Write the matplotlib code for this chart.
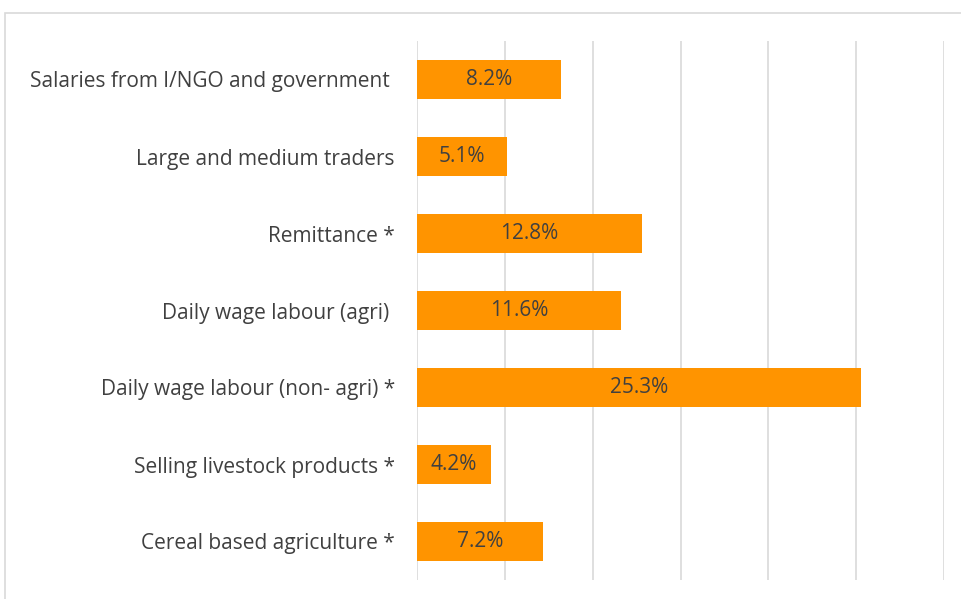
import matplotlib
matplotlib.use("Agg")
import matplotlib.pyplot as plt
from matplotlib.patches import Rectangle

categories = [
    "Salaries from I/NGO and government ",
    "Large and medium traders",
    "Remittance *",
    "Daily wage labour (agri) ",
    "Daily wage labour (non- agri) *",
    "Selling livestock products *",
    "Cereal based agriculture *",
]
shares = [8.2, 5.1, 12.8, 11.6, 25.3, 4.2, 7.2]
bar_labels = ["8.2%", "5.1%", "12.8%", "11.6%", "25.3%", "4.2%", "7.2%"]

plt.rcParams["font.family"] = ["Open Sans", "DejaVu Sans"]
text_color = "#404040"
bar_color = "#FF9400"

fig = plt.figure(figsize=(9.62, 5.99), dpi=100)

# chart frame, running off the right and bottom edges
frame = Rectangle((5 / 962, -0.05), 1.1, 1 - 13 / 599 + 0.05,
                  transform=fig.transFigure, fill=False,
                  edgecolor="#d9d9d9", linewidth=1.2)
fig.patches.append(frame)

ax = fig.add_axes([417 / 962, 19 / 599, 527 / 962, 539 / 599])
ypos = list(range(len(categories)))
bars = ax.barh(ypos, shares, height=0.5, color=bar_color)

for bar, lab in zip(bars, bar_labels):
    ax.text(bar.get_width() / 2, bar.get_y() + bar.get_height() / 2, lab,
            ha="center", va="center", color=text_color, fontsize=15)

ax.set_xlim(0, 30)
ax.set_ylim(len(categories) - 0.5, -0.5)
ax.set_xticks([0, 5, 10, 15, 20, 25, 30])
ax.set_xticklabels([])
ax.tick_params(axis="x", length=0)
ax.set_yticks(ypos)
ax.set_yticklabels(categories, color=text_color, fontsize=15)
ax.tick_params(axis="y", length=0, pad=16)
ax.grid(axis="x", color="#d9d9d9", linewidth=1.2)
ax.set_axisbelow(True)
for side in ax.spines.values():
    side.set_visible(False)

fig.savefig("out.png", dpi=100)
